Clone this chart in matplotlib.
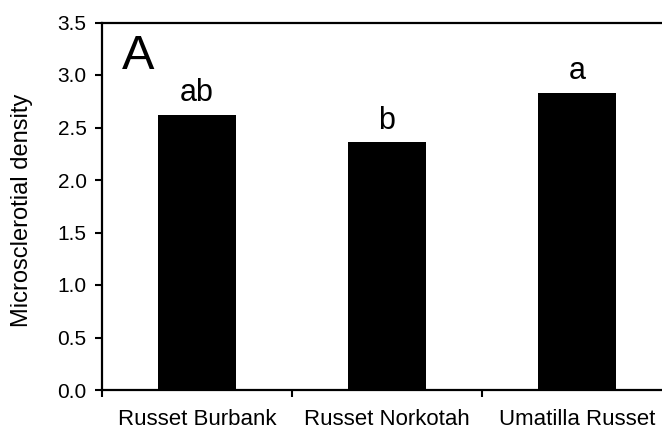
import numpy as np
import matplotlib
matplotlib.use("Agg")
import matplotlib.pyplot as plt

plt.rcParams['font.family'] = ['Liberation Sans', 'DejaVu Sans']

cultivars = ["Russet Burbank", "Russet Norkotah", "Umatilla Russet"]
density = [2.62, 2.36, 2.83]
letters = ["ab", "b", "a"]
yticks = [0.0, 0.5, 1.0, 1.5, 2.0, 2.5, 3.0, 3.5]

fig = plt.figure(figsize=(6.62, 4.32), dpi=100)
# axes runs a little past the right edge of the figure
ax = fig.add_axes([102 / 662, 42 / 432, 570 / 662, 367.5 / 432])

x = np.arange(len(cultivars)) + 0.5
ax.bar(x, density, width=0.41, color="black")
for xi, d, lab in zip(x, density, letters):
    ax.text(xi, d + 0.13, lab, ha="center", va="baseline", fontsize=22)

ax.set_xlim(0, 3)
ax.set_ylim(0, 3.5)
ax.set_yticks(yticks)
ax.set_yticklabels([f"{t:.1f}" for t in yticks])
ax.set_xticks([0, 1, 2, 3])
ax.set_xticklabels([])
ax.set_xticks(x, minor=True)
ax.set_xticklabels(cultivars, minor=True)

ax.tick_params(axis="both", which="major", direction="out", length=5, width=1.5,
               labelsize=15, pad=6)
ax.tick_params(axis="x", which="minor", length=0, labelsize=16, pad=13.5)

for sp in ax.spines.values():
    sp.set_linewidth(1.6)

ax.set_ylabel("Microsclerotial density", fontsize=17)
ax.yaxis.set_label_coords(-0.121, 0.49)

ax.text(0.035, 0.873, "A", transform=ax.transAxes, fontsize=35, va="baseline")

fig.savefig("out.png", dpi=100)
